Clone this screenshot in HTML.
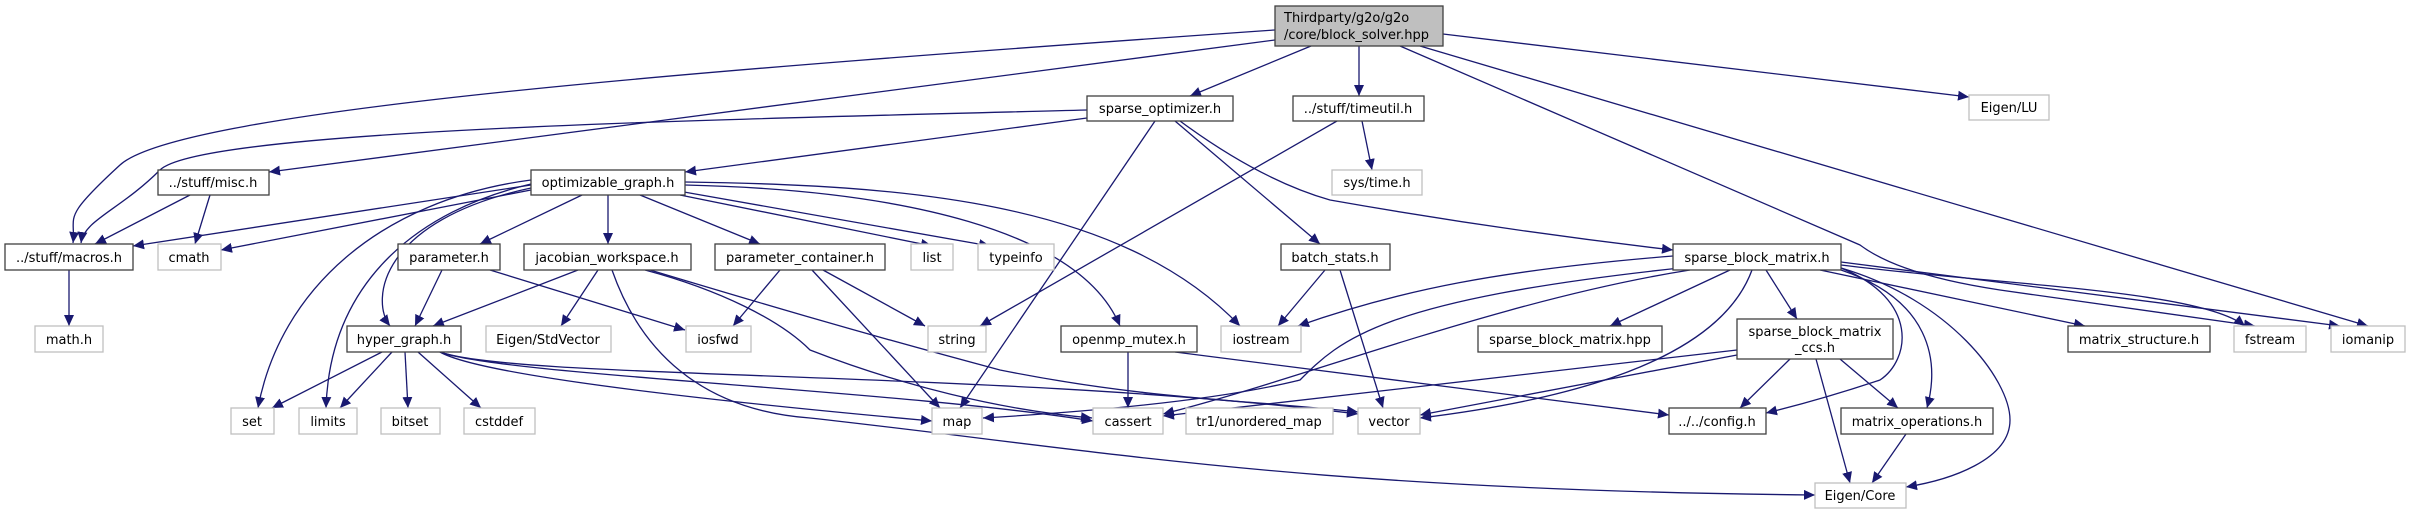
<!DOCTYPE html>
<html><head><meta charset="utf-8"><style>
html,body{margin:0;padding:0;background:#fff;}
svg{display:block}
text{font-family:"DejaVu Sans","Liberation Sans",sans-serif;font-size:13px;fill:#000}
.e{fill:none;stroke:#191970;stroke-width:1.3}
.b{fill:#fff;stroke:#404040;stroke-width:1.3}
.g{fill:#fff;stroke:#bfbfbf;stroke-width:1.3}
</style></head><body>
<svg width="2417" height="515" viewBox="0 0 2417 515" xmlns="http://www.w3.org/2000/svg">
<defs><marker id="a" markerUnits="userSpaceOnUse" markerWidth="12" markerHeight="10" refX="11" refY="5" orient="auto"><path d="M0,0 L11,5 L0,10 Z" fill="#191970"/></marker></defs>
<g class="e" marker-end="url(#a)">
<path d="M1275,30 C700,70 180,110 120,165 S76,215 73,243"/>
<path d="M1275,40 L269,172"/>
<path d="M1311,46 L1190,96"/>
<path d="M1359,46 L1359,96"/>
<path d="M1443,34 L1969,97"/>
<path d="M1420,46 L2368,326"/>
<path d="M1400,46 L1860,245 Q1900,275 2000,290 L2255,326"/>
<path d="M1087,110 C700,120 200,130 160,170 S84,220 81,243"/>
<path d="M1087,118 L685,172"/>
<path d="M1155,121 L960,408"/>
<path d="M1175,121 L1320,244"/>
<path d="M1180,121 Q1260,180 1330,200 Q1500,230 1673,250"/>
<path d="M1337,121 L980,326"/>
<path d="M1362,121 L1372,170"/>
<path d="M531,185 L133,246"/>
<path d="M531,190 L221,250"/>
<path d="M582,195 L480,244"/>
<path d="M608,195 L608,244"/>
<path d="M640,195 L760,244"/>
<path d="M680,195 L932,246"/>
<path d="M684,192 L990,246"/>
<path d="M531,180 C380,200 280,290 258,408"/>
<path d="M531,184 C420,210 330,280 326,408"/>
<path d="M531,188 C380,220 370,300 390,326"/>
<path d="M685,182 C900,185 1120,200 1240,326"/>
<path d="M685,185 C900,190 1080,230 1120,326"/>
<path d="M190,195 L95,244"/>
<path d="M210,195 L195,244"/>
<path d="M69,270 L69,326"/>
<path d="M442,270 L415,326"/>
<path d="M490,270 L685,330"/>
<path d="M578,270 L433,326"/>
<path d="M598,270 L561,326"/>
<path d="M612,270 C640,350 700,410 810,418 C1100,450 1300,490 1815,495"/>
<path d="M645,270 C720,290 780,320 810,350 C900,385 1000,410 1092,418"/>
<path d="M650,270 C750,300 850,330 1000,370 C1150,400 1250,400 1358,412"/>
<path d="M780,270 L733,326"/>
<path d="M823,270 L925,326"/>
<path d="M812,270 L940,408"/>
<path d="M382,352 L272,408"/>
<path d="M392,352 L340,408"/>
<path d="M405,352 L408,408"/>
<path d="M418,352 L481,408"/>
<path d="M440,352 C480,375 700,400 932,421"/>
<path d="M440,352 C500,375 900,390 1093,421"/>
<path d="M440,352 C520,380 1000,370 1358,414"/>
<path d="M1128,352 L1128,408"/>
<path d="M1175,352 L1669,415"/>
<path d="M1325,270 L1278,326"/>
<path d="M1340,270 L1383,408"/>
<path d="M1673,256 C1500,270 1400,290 1298,326"/>
<path d="M1680,268 C1380,300 1340,340 1300,380 Q1200,405 983,418"/>
<path d="M1690,270 C1500,300 1300,380 1163,414"/>
<path d="M1730,270 L1610,326"/>
<path d="M1752,270 C1730,330 1650,390 1420,418"/>
<path d="M1766,270 L1797,319"/>
<path d="M1841,268 C1920,300 1910,360 1880,380 Q1820,400 1766,413"/>
<path d="M1841,270 C1930,300 1940,360 1927,408"/>
<path d="M1841,268 C1950,300 2010,380 2010,420 C2010,460 1950,480 1906,487"/>
<path d="M1820,270 L2085,326"/>
<path d="M1841,265 C2000,285 2200,290 2245,326"/>
<path d="M1841,262 L2340,326"/>
<path d="M1790,359 L1740,408"/>
<path d="M1840,359 L1898,408"/>
<path d="M1816,359 L1850,483"/>
<path d="M1737,350 L1163,416"/>
<path d="M1737,355 L1420,415"/>
<path d="M1906,434 L1872,483"/>
</g>
<rect x="1275" y="6" width="168" height="40" fill="#bfbfbf" stroke="#404040" stroke-width="1.3"/>
<text x="1284" y="22">Thirdparty/g2o/g2o</text>
<text x="1284" y="39">/core/block_solver.hpp</text>
<g>
<rect class="b" x="1087" y="96" width="146" height="25"/><text x="1160" y="113" text-anchor="middle">sparse_optimizer.h</text>
<rect class="b" x="1293" y="96" width="131" height="25"/><text x="1358" y="113" text-anchor="middle">../stuff/timeutil.h</text>
<rect class="g" x="1969" y="95" width="80" height="25"/><text x="2009" y="112" text-anchor="middle">Eigen/LU</text>
<rect class="b" x="158" y="170" width="111" height="25"/><text x="213" y="187" text-anchor="middle">../stuff/misc.h</text>
<rect class="b" x="531" y="170" width="154" height="25"/><text x="608" y="187" text-anchor="middle">optimizable_graph.h</text>
<rect class="g" x="1332" y="170" width="90" height="25"/><text x="1377" y="187" text-anchor="middle">sys/time.h</text>
<rect class="b" x="5" y="244" width="128" height="26"/><text x="69" y="262" text-anchor="middle">../stuff/macros.h</text>
<rect class="g" x="158" y="244" width="63" height="26"/><text x="189" y="262" text-anchor="middle">cmath</text>
<rect class="b" x="398" y="244" width="102" height="26"/><text x="449" y="262" text-anchor="middle">parameter.h</text>
<rect class="b" x="524" y="244" width="167" height="26"/><text x="607" y="262" text-anchor="middle">jacobian_workspace.h</text>
<rect class="b" x="715" y="244" width="170" height="26"/><text x="800" y="262" text-anchor="middle">parameter_container.h</text>
<rect class="g" x="911" y="244" width="42" height="26"/><text x="932" y="262" text-anchor="middle">list</text>
<rect class="g" x="978" y="244" width="76" height="26"/><text x="1016" y="262" text-anchor="middle">typeinfo</text>
<rect class="b" x="1281" y="244" width="109" height="26"/><text x="1335" y="262" text-anchor="middle">batch_stats.h</text>
<rect class="b" x="1673" y="244" width="168" height="26"/><text x="1757" y="262" text-anchor="middle">sparse_block_matrix.h</text>
<rect class="g" x="35" y="326" width="68" height="26"/><text x="69" y="344" text-anchor="middle">math.h</text>
<rect class="b" x="347" y="326" width="114" height="26"/><text x="404" y="344" text-anchor="middle">hyper_graph.h</text>
<rect class="g" x="486" y="326" width="125" height="26"/><text x="548" y="344" text-anchor="middle">Eigen/StdVector</text>
<rect class="g" x="686" y="326" width="65" height="26"/><text x="718" y="344" text-anchor="middle">iosfwd</text>
<rect class="g" x="928" y="326" width="58" height="26"/><text x="957" y="344" text-anchor="middle">string</text>
<rect class="b" x="1061" y="326" width="136" height="26"/><text x="1129" y="344" text-anchor="middle">openmp_mutex.h</text>
<rect class="g" x="1221" y="326" width="80" height="26"/><text x="1261" y="344" text-anchor="middle">iostream</text>
<rect class="b" x="1478" y="326" width="184" height="26"/><text x="1570" y="344" text-anchor="middle">sparse_block_matrix.hpp</text>
<rect class="b" x="1737" y="319" width="156" height="40"/><text x="1815" y="336" text-anchor="middle">sparse_block_matrix</text><text x="1815" y="352" text-anchor="middle">_ccs.h</text>
<rect class="b" x="2068" y="326" width="142" height="26"/><text x="2139" y="344" text-anchor="middle">matrix_structure.h</text>
<rect class="g" x="2234" y="326" width="72" height="26"/><text x="2270" y="344" text-anchor="middle">fstream</text>
<rect class="g" x="2331" y="326" width="74" height="26"/><text x="2368" y="344" text-anchor="middle">iomanip</text>
<rect class="g" x="231" y="408" width="43" height="26"/><text x="252" y="426" text-anchor="middle">set</text>
<rect class="g" x="299" y="408" width="58" height="26"/><text x="328" y="426" text-anchor="middle">limits</text>
<rect class="g" x="381" y="408" width="59" height="26"/><text x="410" y="426" text-anchor="middle">bitset</text>
<rect class="g" x="464" y="408" width="71" height="26"/><text x="499" y="426" text-anchor="middle">cstddef</text>
<rect class="g" x="932" y="408" width="50" height="26"/><text x="957" y="426" text-anchor="middle">map</text>
<rect class="g" x="1093" y="408" width="70" height="26"/><text x="1128" y="426" text-anchor="middle">cassert</text>
<rect class="g" x="1186" y="408" width="147" height="26"/><text x="1259" y="426" text-anchor="middle">tr1/unordered_map</text>
<rect class="g" x="1358" y="408" width="62" height="26"/><text x="1389" y="426" text-anchor="middle">vector</text>
<rect class="b" x="1669" y="408" width="97" height="26"/><text x="1717" y="426" text-anchor="middle">../../config.h</text>
<rect class="b" x="1841" y="408" width="152" height="26"/><text x="1917" y="426" text-anchor="middle">matrix_operations.h</text>
<rect class="g" x="1815" y="483" width="91" height="25"/><text x="1860" y="500" text-anchor="middle">Eigen/Core</text>
</g>
</svg>
</body></html>
